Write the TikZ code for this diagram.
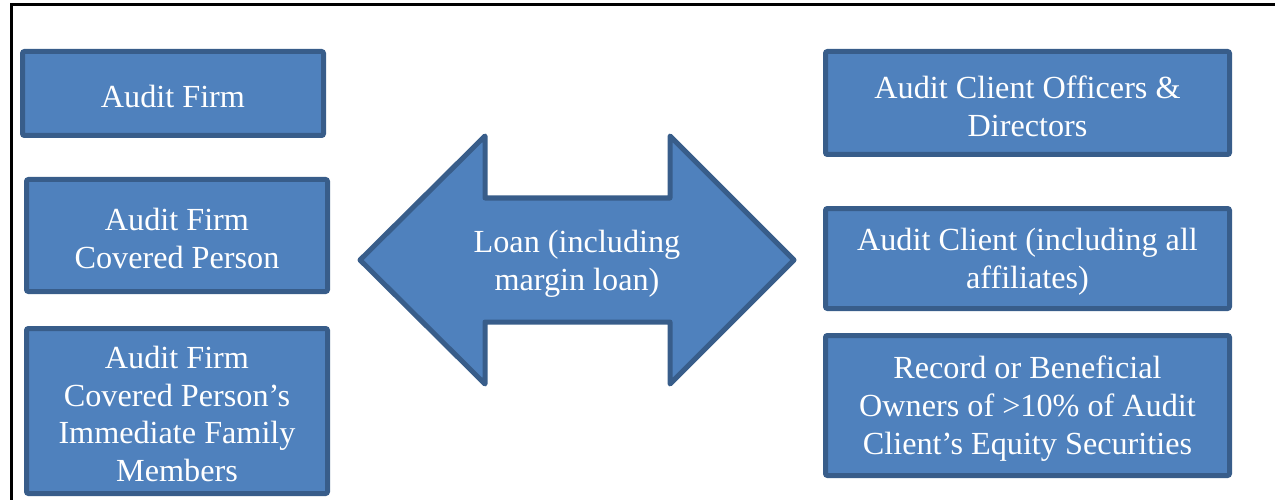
\documentclass[tikz,border=0pt]{standalone}
\usepackage{fontspec}
\setmainfont{Liberation Serif}
\definecolor{boxfill}{HTML}{4F81BD}
\definecolor{boxline}{HTML}{385D8A}
\begin{document}
\begin{tikzpicture}[x=1pt,y=-1pt,
  entity/.style={draw=boxline, fill=boxfill, line width=5pt, rounded corners=2pt},
  label/.style={text=white, align=center, inner sep=0pt, yshift=-3pt,
    font=\fontsize{32.2}{37.8}\selectfont}]
\useasboundingbox (0,0) rectangle (1275,500);
\draw[line width=3pt] (1276,5) -- (11,5) -- (11,501);
% left boxes
\node[entity, minimum width=301pt, minimum height=84pt] (firm) at (173,93.5) {};
\node[label] (firmt) at (firm.center) {Audit Firm};
\node[entity, minimum width=301pt, minimum height=112pt] (cov) at (177,235.5) {};
\node[label] (covt) at (cov.center) {Audit Firm\\Covered Person};
\node[entity, minimum width=301pt, minimum height=165pt] (fam) at (177,411) {};
\node[label] (famt) at (fam.center) {Audit Firm\\Covered Person’s\\Immediate Family\\Members};
% right boxes
\node[entity, minimum width=404pt, minimum height=103pt] (off) at (1027.5,103) {};
\node[label] (offt) at (off.center) {Audit Client Officers \&\\Directors};
\node[entity, minimum width=404pt, minimum height=100pt] (cli) at (1027.5,258.5) {};
\node[label] (clit) at (cli.center) {Audit Client (including all\\affiliates)};
\node[entity, minimum width=404pt, minimum height=140pt] (own) at (1027.5,405.5) {};
\node[label] (ownt) at (own.center) {Record or Beneficial\\Owners of >10\% of Audit\\Client’s Equity Securities};
% double arrow
\draw[draw=boxline, fill=boxfill, line width=5pt, line join=round]
  (360,260) -- (485,136) -- (485,198) -- (670,198) -- (670,136) -- (794,260)
  -- (670,384) -- (670,322) -- (485,322) -- (485,384) -- cycle;
\node[label] (loan) at (577,261) {Loan (including\\margin loan)};
\end{tikzpicture}
\end{document}
